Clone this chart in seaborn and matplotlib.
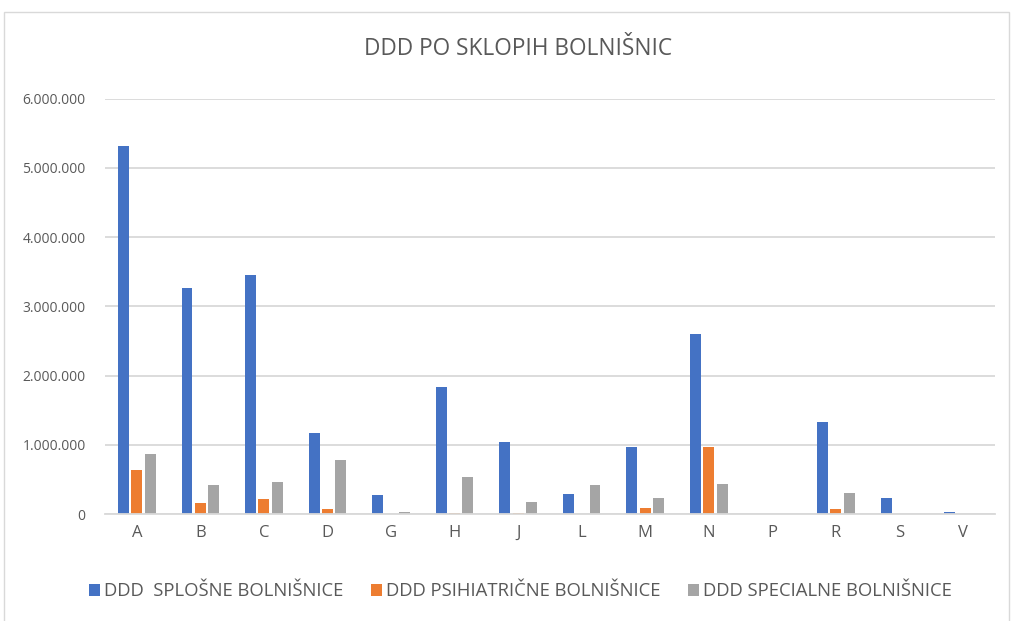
import pandas as pd
import matplotlib.pyplot as plt
import matplotlib.ticker as mticker
from matplotlib.patches import Rectangle
import seaborn as sns

# Data
regije = ['A', 'B', 'C', 'D', 'G', 'H', 'J', 'L', 'M', 'N', 'P', 'R', 'S', 'V']
splosne = [5320000, 3260000, 3460000, 1170000, 280000, 1830000, 1040000,
           294000, 965000, 2600000, 8000, 1333000, 236000, 33000]
psihiatricne = [640000, 164000, 217000, 77000, 5000, 20000, 20000,
                0, 87000, 975000, 0, 77000, 0, 0]
specialne = [870000, 425000, 458000, 777000, 33000, 540000, 174000,
             420000, 236000, 443000, 3000, 309000, 0, 0]
serije = ['DDD  SPLOŠNE BOLNIŠNICE', 'DDD PSIHIATRIČNE BOLNIŠNICE',
          'DDD SPECIALNE BOLNIŠNICE']
barve = ['#4472C4', '#ED7D31', '#A5A5A5']

df = pd.DataFrame({'regija': regije, serije[0]: splosne,
                   serije[1]: psihiatricne, serije[2]: specialne})
df = df.melt(id_vars='regija', var_name='serija', value_name='ddd')

sns.set_style('white')
plt.rcParams['font.family'] = ['Open Sans', 'DejaVu Sans']

fig = plt.figure(figsize=(10.11, 6.21), dpi=100)
ax = fig.add_axes([0.1039, 0.172, 0.880, 0.669])

sns.barplot(data=df, x='regija', y='ddd', hue='serija', hue_order=serije,
            palette=barve, saturation=1, width=0.63, gap=0.18, linewidth=0,
            ax=ax, legend=True)

ax.set_ylim(0, 6000000)
ax.set_yticks(range(0, 6000001, 1000000))
ax.yaxis.set_major_formatter(mticker.FuncFormatter(
    lambda v, p: f'{int(v):,}'.replace(',', '.')))
ax.yaxis.grid(True, color='#D9D9D9', linewidth=1.3)
ax.set_axisbelow(True)
for s in ['top', 'right', 'left']:
    ax.spines[s].set_visible(False)
ax.spines['bottom'].set_color('#D9D9D9')
ax.spines['bottom'].set_linewidth(1.3)
ax.set_xlabel('')
ax.set_ylabel('')
ax.tick_params(axis='y', labelsize=10, colors='#595959', length=0, pad=14)
ax.tick_params(axis='x', labelsize=12, colors='#595959', length=0, pad=8)

fig.text(0.512, 0.921, 'DDD PO SKLOPIH BOLNIŠNIC', ha='center', va='center',
         fontsize=16.3, color='#595959')

handles, labels = ax.get_legend_handles_labels()
ax.legend_.remove()
fig.legend(handles, labels, loc='center', bbox_to_anchor=(0.515, 0.048),
           ncol=3, frameon=False, fontsize=13.3, handlelength=0.6,
           handleheight=0.6, handletextpad=0.2, columnspacing=1.5,
           labelcolor='#595959')

fig.patches.append(Rectangle((0.004, -0.01), 0.994, 0.99, transform=fig.transFigure,
                             fill=False, edgecolor='#D9D9D9', linewidth=1))

plt.savefig('out.png', dpi=100)
plt.close()
